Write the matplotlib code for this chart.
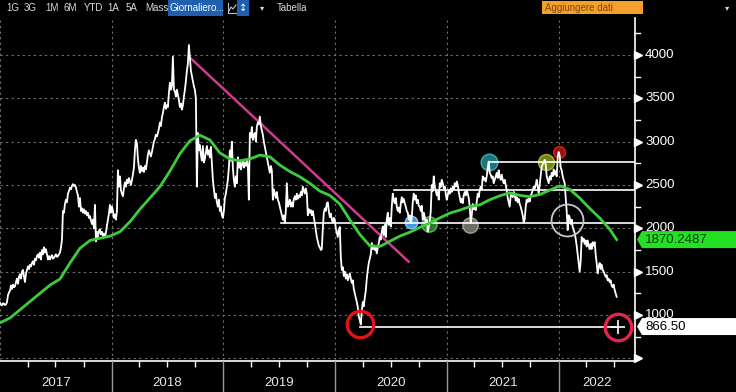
import matplotlib
matplotlib.use('Agg')
import matplotlib.pyplot as plt
import matplotlib.dates as mdates
import matplotlib.transforms as mtransforms
from matplotlib.patches import Polygon, Rectangle
from matplotlib.lines import Line2D
import pandas as pd

plt.rcParams['font.family'] = ['Liberation Sans Narrow', 'Liberation Sans', 'DejaVu Sans']

# daily-ish closing prices (Jan 2017 -> Jul 2022)
price = [
    1140, 1120, 1110, 1135, 1130, 1115, 1120, 1150, 1230, 1260,
    1280, 1340, 1300, 1350, 1320, 1330, 1380, 1420, 1360, 1440,
    1470, 1420, 1500, 1520, 1440, 1380, 1480, 1520, 1560, 1530,
    1580, 1560, 1600, 1620, 1580, 1650, 1630, 1680, 1700, 1660,
    1720, 1640, 1750, 1700, 1780, 1720, 1760, 1700, 1640, 1680,
    1640, 1670, 1690, 1650, 1660, 1680, 1700, 1670, 1680, 1700,
    1720, 1780, 1870, 2200, 2180, 2280, 2330, 2300, 2400, 2430,
    2470, 2450, 2490, 2510, 2490, 2500, 2470, 2420, 2380, 2250,
    2350, 2200, 2230, 2180, 2220, 2170, 2200, 2150, 2180, 2120,
    2140, 2090, 2050, 2100, 2000, 2270, 1850, 1960, 1900, 1970,
    1990, 1930, 1960, 1910, 1940, 1900, 1950, 2030, 2100, 2170,
    2270, 2180, 2250, 2200, 2120, 2160, 2100, 2200, 2670, 2480,
    2600, 2440, 2400, 2370, 2460, 2530, 2480, 2560, 2520, 2580,
    2540, 2500, 2560, 2620, 2700, 2900, 3020, 2980, 2800, 2700,
    2640, 2720, 2660, 2700, 2650, 2720, 2680, 2760, 2850, 2900,
    2860, 2830, 2880, 2940, 3000, 3030, 3080, 3060, 3100, 3150,
    3220, 3180, 3280, 3330, 3400, 3450, 3380, 3420, 3400, 3560,
    3680, 3600, 3650, 3980, 3600, 3580, 3520, 3600, 3540, 3480,
    3400, 3440, 3370, 3420, 3520, 3600, 3700, 3820, 3900, 4115,
    3960, 3820, 3760, 3700, 3640, 3600, 3500, 2480, 3100, 2900,
    2960, 2850, 2780, 2950, 2760, 2800, 2880, 2950, 2850, 2900,
    2820, 2940, 2760, 2560, 2460, 2350, 2400, 2300, 2250, 2330,
    2200, 2250, 2150, 2120, 2200, 2350, 2400, 2480, 2560, 2700,
    2900, 2780, 3000, 2700, 2560, 2480, 2600, 2520, 2820, 2700,
    2760, 2680, 2740, 2780, 2700, 2760, 2720, 2780, 2720, 2330,
    3100, 3050, 3170, 3020, 3080, 3100, 3000, 3170, 3220, 3200,
    3290, 3180, 3130, 3080, 3000, 2940, 2880, 2820, 2760, 2700,
    2640, 2720, 2670, 2330, 2450, 2400, 2350, 2420, 2330, 2300,
    2250, 2200, 2150, 2100, 2150, 2060, 2200, 2520, 2250, 2280,
    2330, 2250, 2300, 2250, 2340, 2370, 2330, 2400, 2340, 2380,
    2360, 2420, 2380, 2480, 2440, 2400, 2460, 2400, 2150, 2220,
    2180, 2210, 2150, 2200, 2130, 2060, 1980, 1900, 1850, 1800,
    1780, 1750, 1760, 2000, 2180, 2230, 2200, 2290, 2300, 2200,
    2130, 2170, 2100, 2070, 2120, 2100, 2000, 1950, 1900, 1980,
    2015, 1670, 1520, 1550, 1450, 1500, 1420, 1470, 1400, 1440,
    1480, 1420, 1370, 1400, 1300, 1250, 1200, 1150, 1090, 980,
    940, 890, 1050, 1150, 1100, 1200, 1280, 1420, 1520, 1600,
    1650, 1700, 1830, 1760, 1800, 1750, 1790, 1710, 1780, 1830,
    1900, 1870, 1960, 2020, 1920, 2040, 1900, 2100, 2180, 2040,
    2120, 2020, 2250, 2400, 2320, 2290, 2350, 2250, 2200, 2240,
    2180, 2280, 2360, 2300, 2340, 2290, 2250, 2200, 2180, 2100,
    2150, 2060, 2120, 2300, 2400, 2330, 2380, 2290, 2330, 2260,
    2250, 2200, 2260, 2100, 2180, 2130, 2050, 2100, 1960, 2020,
    2080, 2200, 2500, 2430, 2600, 2480, 2440, 2380, 2420, 2330,
    2520, 2480, 2560, 2520, 2460, 2480, 2400, 2330, 2380, 2440,
    2400, 2460, 2420, 2480, 2450, 2520, 2480, 2540, 2500, 2420,
    2360, 2300, 2340, 2290, 2380, 2420, 2380, 2440, 2400, 2350,
    2250, 2060, 2150, 2280, 2220, 2260, 2210, 2300, 2400, 2360,
    2440, 2480, 2450, 2600, 2560, 2580, 2540, 2600, 2700, 2770,
    2640, 2620, 2580, 2600, 2520, 2560, 2600, 2640, 2580, 2670,
    2600, 2560, 2620, 2560, 2520, 2560, 2500, 2440, 2350, 2300,
    2250, 2380, 2400, 2360, 2420, 2380, 2320, 2360, 2300, 2340,
    2280, 2250, 2200, 2150, 2070, 2100, 2250, 2330, 2300, 2350,
    2310, 2380, 2400, 2440, 2480, 2460, 2500, 2560, 2480, 2400,
    2500, 2600, 2710, 2740, 2760, 2790, 2740, 2600, 2560, 2520,
    2600, 2560, 2640, 2600, 2680, 2620, 2660, 2600, 2820, 2880,
    2840, 2700, 2670, 2600, 2560, 2520, 2360, 2200, 1980, 2150,
    2130, 2050, 2100, 2015, 1980, 1945, 1880, 1800, 1700, 1600,
    1500, 1620, 1900, 1850, 1880, 1820, 1860, 1790, 1860, 1800,
    1760, 1820, 1760, 1840, 1800, 1840, 1700, 1600, 1480, 1560,
    1600, 1530, 1580, 1520, 1500, 1470, 1440, 1460, 1400, 1420,
    1380, 1400, 1340, 1320, 1350, 1290, 1250, 1210,
]
dates = pd.date_range('2017-01-01', '2022-07-10', periods=len(price))

# moving average (green), sampled every 10th price point plus the last one
ma_idx = list(range(0, len(price), 10)) + [len(price) - 1]
ma_values = [
    910, 965, 1060, 1155, 1250, 1345, 1415, 1600, 1770, 1860,
    1885, 1910, 1960, 2075, 2220, 2350, 2480, 2660, 2860, 3010,
    3075, 3020, 2870, 2800, 2780, 2800, 2845, 2825, 2730, 2655,
    2595, 2520, 2430, 2380, 2280, 2100, 1930, 1800, 1790, 1850,
    1910, 1955, 2010, 2060, 2120, 2175, 2210, 2250, 2270, 2330,
    2375, 2410, 2380, 2365, 2390, 2440, 2490, 2450, 2350, 2230,
    2120, 1990, 1870,
]
ma_dates = dates[ma_idx]

# annotations drawn on the chart
trend_dates = ['2018-09-11', '2020-08-29']
trend_values = [3980, 1615]

level_values = [2765, 2440, 2058, 866.5]
level_starts = ['2021-05-18', '2020-07-11', '2019-07-10', '2020-03-23']
level_ends = [None, None, None, '2022-07-14']

circle_dates = ['2020-03-23', '2022-07-14', '2020-09-05', '2020-11-04', '2021-03-19',
                '2021-05-18', '2021-11-20', '2022-01-02', '2022-01-29']
circle_values = [900, 866.5, 2073, 2055, 2038, 2765, 2765, 2880, 2096]

ma_last_label = '1870.2487'
price_line_label = '866.50'
ytick_values = [500, 1000, 1500, 2000, 2500, 3000, 3500, 4000]
years = [2017, 2018, 2019, 2020, 2021, 2022]

W, H = 736, 392
fig = plt.figure(figsize=(W / 100, H / 100), dpi=100, facecolor='black')
ax = fig.add_axes([0, (H - 361) / H, 635 / W, (361 - 18) / H])
ax.set_facecolor('black')

x0 = pd.Timestamp('2017-01-01')
x1 = pd.Timestamp('2022-09-08')
ax.set_xlim(x0, x1)
ax.set_ylim(469, 4427)

# grid
ax.set_yticks(ytick_values)
ax.xaxis.set_major_locator(mdates.YearLocator())
ax.xaxis.set_minor_locator(mdates.MonthLocator(bymonth=[4, 7, 10]))
ax.grid(True, which='major', color='#707070', lw=0.8, ls=(0, (2, 3)), zorder=0.5)
ax.set_axisbelow(True)
ax.tick_params(axis='y', length=0, labelleft=False, labelright=False)
ax.tick_params(axis='x', which='major', length=0, labelbottom=False)
ax.tick_params(axis='x', which='minor', length=4, width=1, color='white', direction='out')

for s in ['left', 'top']:
    ax.spines[s].set_visible(False)
for s in ['right', 'bottom']:
    ax.spines[s].set_color('white')
    ax.spines[s].set_linewidth(1.2)

# support / resistance levels
for v, st, en in zip(level_values, level_starts, level_ends):
    end = pd.Timestamp(en) if en else x1
    ax.plot([pd.Timestamp(st), end], [v, v], color='white', lw=1.2, zorder=2)

# trend line
ax.plot(pd.to_datetime(trend_dates), trend_values, color='#d23a8c', lw=1.8, zorder=2)

# circles
cd = pd.to_datetime(circle_dates)
styles = [
    dict(ms=19, mfc='none', mec='#e01418', mew=2.4, zorder=5),
    dict(ms=19, mfc='none', mec='#e6244c', mew=2.4, zorder=5),
    dict(ms=9, mfc='#4a9ff0', mec='#8cc6ff', mew=1.0, alpha=0.95, zorder=1.5),
    dict(ms=11, mfc='#2f8a2f', mec='#5cbf5c', mew=1.0, alpha=0.9, zorder=1.5),
    dict(ms=11, mfc='#76756a', mec='#a8a798', mew=1.0, alpha=0.95, zorder=1.5),
    dict(ms=12, mfc='#1f7d86', mec='#3db2ba', mew=1.0, alpha=0.95, zorder=1.5),
    dict(ms=11.5, mfc='#7d8d14', mec='#a8b832', mew=1.0, alpha=0.95, zorder=1.5),
    dict(ms=8.5, mfc='#a01212', mec='#e02020', mew=1.0, alpha=0.95, zorder=1.5),
    dict(ms=23, mfc='none', mec='#c8c8c8', mew=1.3, zorder=5),
]
for d, v, st in zip(cd, circle_values, styles):
    ax.plot([d], [v], marker='o', ls='none', **st)
ax.plot([cd[1]], [circle_values[1]], marker='+', ms=10, mew=1.2, color='white', zorder=6)

# price and moving average
ax.plot(dates, price, color='white', lw=1.3, zorder=3)
ax.plot(ma_dates, ma_values, color='#3ccc3c', lw=2.0, zorder=4)

# right axis: triangles, minor ticks, labels
ty = mtransforms.blended_transform_factory(ax.transAxes, ax.transData)
for v in ytick_values:
    ax.plot([1.0055], [v], marker='>', ms=5.5, color='white', transform=ty, clip_on=False, zorder=3)
    if v >= 1000:
        ax.text(1.016, v, str(v), transform=ty, color='white', fontsize=9.5,
                va='center', ha='left', clip_on=False, zorder=3)
for v in range(750, 4500, 500):
    ax.plot([1.0, 1.008], [v, v], color='white', lw=1, transform=ty, clip_on=False, zorder=3)

# value tags on the right
fig.canvas.draw()
def tag(value, text, face, tcolor):
    yd = ax.transData.transform((0, value))[1] / H
    h = 8.5 / H
    xt, xb, xe = 637 / W, 642 / W, 1.0
    poly = Polygon([[xt, yd], [xb, yd + h], [xe, yd + h], [xe, yd - h], [xb, yd - h]],
                   closed=True, facecolor=face, edgecolor='none', transform=fig.transFigure, zorder=10)
    fig.patches.append(poly)
    fig.text(645 / W, yd, text, color=tcolor, fontsize=9.5, va='center', ha='left', zorder=11)

tag(ma_values[-1], ma_last_label, '#22e022', '#0b3a0b')
tag(level_values[-1], price_line_label, 'white', 'black')

# x axis: year separators and labels
tx = mtransforms.blended_transform_factory(ax.transData, fig.transFigure)
for yr in years[1:]:
    d = mdates.date2num(pd.Timestamp(f'{yr}-01-01'))
    fig.lines.append(Line2D([d, d], [0, (H - 361) / H], transform=tx, color='#9a9a9a', lw=1))
for yr in years:
    a = max(mdates.date2num(pd.Timestamp(f'{yr}-01-01')), mdates.date2num(x0))
    b = min(mdates.date2num(pd.Timestamp(f'{yr + 1}-01-01')), mdates.date2num(x1))
    fig.text((a + b) / 2, (H - 383) / H, str(yr), transform=tx, color='#e6e6e6',
             fontsize=9.5, ha='center', va='center')

# toolbar
def px(x, y):
    return x / W, 1 - y / H

toolbar = ['1G', '3G', '1M', '6M', 'YTD', '1A', '5A', 'Mass']
toolbar_x = [6, 24, 45, 64, 84, 107, 126, 145]
for t, x in zip(toolbar, toolbar_x):
    fig.text(*px(x, 8), t, color='#d8d8d8', fontsize=7, va='center', ha='left')

fig.patches.append(Rectangle(px(168, 16), 55 / W, 16 / H, transform=fig.transFigure,
                             facecolor='#1f5fae', edgecolor='none'))
fig.text(*px(170, 8), 'Giornaliero...', color='white', fontsize=7, va='center', ha='left')
fig.lines.append(Line2D([228 / W, 228 / W, 236 / W], [1 - 3 / H, 1 - 13 / H, 1 - 13 / H],
                        transform=fig.transFigure, color='#c0c0c0', lw=0.8))
fig.lines.append(Line2D([229 / W, 231 / W, 233 / W, 236 / W], [1 - 11 / H, 1 - 7 / H, 1 - 9 / H, 1 - 5 / H],
                        transform=fig.transFigure, color='#c0c0c0', lw=0.8))
fig.patches.append(Rectangle(px(237, 16), 12 / W, 16 / H, transform=fig.transFigure,
                             facecolor='#1f5fae', edgecolor='none'))
fig.text(*px(243, 8), '\u2195', color='white', fontsize=7, va='center', ha='center',
         family=['DejaVu Sans'])
fig.text(*px(262, 8), '\u25be', color='#d8d8d8', fontsize=6, va='center', ha='center',
         family=['DejaVu Sans'])
fig.text(*px(277, 8), 'Tabella', color='#d8d8d8', fontsize=7, va='center', ha='left')
fig.patches.append(Rectangle(px(542, 14), 101 / W, 13 / H, transform=fig.transFigure,
                             facecolor='#f5a02c', edgecolor='none'))
fig.text(*px(545, 8), 'Aggiungere dati', color='#7a4810', fontsize=7, va='center', ha='left')
fig.text(*px(727, 8), '\u25be', color='#d8d8d8', fontsize=6, va='center', ha='center',
         family=['DejaVu Sans'])

fig.savefig('out.png', dpi=100, facecolor='black')
